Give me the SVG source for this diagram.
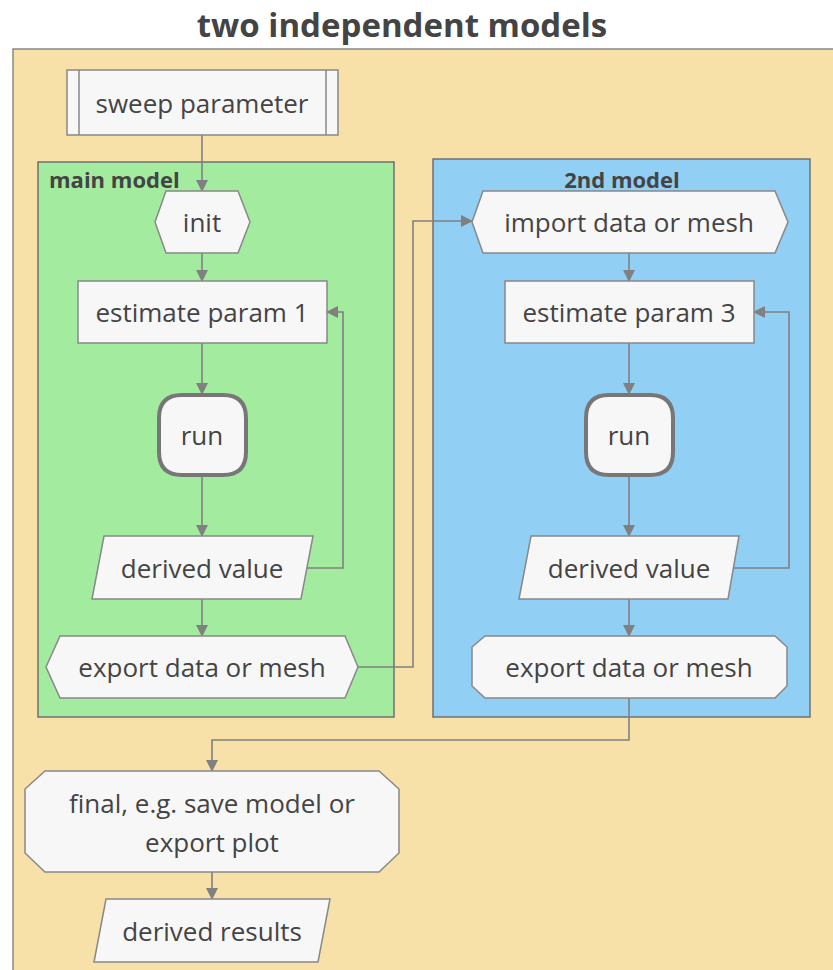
<svg xmlns="http://www.w3.org/2000/svg" width="833" height="970" viewBox="0 0 833 970">
  <style>
    .title { font-family: "Open Sans", "Noto Sans", sans-serif; font-weight: bold; font-size: 33px; fill: #444; text-anchor: middle; }
    .clabel { font-family: "Open Sans", "Noto Sans", sans-serif; font-weight: bold; font-size: 22px; fill: #444; }
    .lbl { font-family: "Open Sans", "Noto Sans", sans-serif; font-size: 26px; fill: #444; text-anchor: middle; dominant-baseline: central; }
    .node { fill: #f7f7f7; stroke: #888; stroke-width: 1.5; }
    .thick { fill: #f7f7f7; stroke: #777; stroke-width: 4; }
    .edge { fill: none; stroke: #808080; stroke-width: 1.6; }
  </style>
  <defs>
    <marker id="arrow" viewBox="0 0 12 12" refX="11" refY="6" markerWidth="12" markerHeight="12" markerUnits="userSpaceOnUse" orient="auto">
      <path d="M0,0 L12,6 L0,12 z" fill="#808080"/>
    </marker>
  </defs>

  <rect x="0" y="0" width="833" height="970" fill="#ffffff"/>
  <text class="title" x="402" y="37">two independent models</text>

  <!-- outer frame -->
  <g id="frame">
    <rect x="13" y="49" width="840" height="940" fill="#f8e0a9" stroke="#888" stroke-width="1.5"/>
  </g>

  <!-- clusters -->
  <g id="main-model">
    <rect x="38" y="162" width="356" height="555" fill="#a3ec9f" stroke="#707070" stroke-width="1.5"/>
    <text class="clabel" x="49" y="188">main model</text>
  </g>
  <g id="second-model">
    <rect x="433" y="159" width="377" height="558" fill="#92cff4" stroke="#707070" stroke-width="1.5"/>
    <text class="clabel" x="622" y="188" text-anchor="middle">2nd model</text>
  </g>

  <!-- connectors -->
  <g id="connectors">
    <path class="edge" marker-end="url(#arrow)" d="M202,135 L202,191"/>
    <path class="edge" marker-end="url(#arrow)" d="M202,253 L202,281"/>
    <path class="edge" marker-end="url(#arrow)" d="M202,343 L202,394"/>
    <path class="edge" marker-end="url(#arrow)" d="M202,476 L202,536"/>
    <path class="edge" marker-end="url(#arrow)" d="M307,568 L343,568 L343,312 L327,312"/>
    <path class="edge" marker-end="url(#arrow)" d="M202,599 L202,636"/>
    <path class="edge" marker-end="url(#arrow)" d="M358,667 L413,667 L413,221 L472,221"/>
    <path class="edge" marker-end="url(#arrow)" d="M629,253 L629,281"/>
    <path class="edge" marker-end="url(#arrow)" d="M629,343 L629,394"/>
    <path class="edge" marker-end="url(#arrow)" d="M629,476 L629,536"/>
    <path class="edge" marker-end="url(#arrow)" d="M734,568 L789,568 L789,312 L754,312"/>
    <path class="edge" marker-end="url(#arrow)" d="M629,599 L629,636"/>
    <path class="edge" marker-end="url(#arrow)" d="M629,698 L629,740 L212,740 L212,771"/>
    <path class="edge" marker-end="url(#arrow)" d="M212,872 L212,899"/>
  </g>

  <!-- nodes -->
  <g id="sweep">
    <rect class="node" x="67" y="70" width="271" height="65"/>
    <line x1="79" y1="70" x2="79" y2="135" stroke="#888" stroke-width="1.5"/>
    <line x1="326" y1="70" x2="326" y2="135" stroke="#888" stroke-width="1.5"/>
    <text class="lbl" x="202" y="103">sweep parameter</text>
  </g>
  <g id="init">
    <polygon class="node" points="155,222 166,191 238,191 250,222 238,253 166,253"/>
    <text class="lbl" x="202" y="222">init</text>
  </g>
  <g id="estimate1">
    <rect class="node" x="78" y="281" width="249" height="62"/>
    <text class="lbl" x="202" y="312">estimate param 1</text>
  </g>
  <g id="run1">
    <path class="thick" d="M182,395 L223,395 Q246,395 246,418 L246,452 Q246,475 223,475 L182,475 Q159,475 159,452 L159,418 Q159,395 182,395 Z"/>
    <text class="lbl" x="202" y="435">run</text>
  </g>
  <g id="derived1">
    <polygon class="node" points="104,536 313,536 301,599 92,599"/>
    <text class="lbl" x="202" y="568">derived value</text>
  </g>
  <g id="export1">
    <polygon class="node" points="46,667 60,636 345,636 358,667 345,698 60,698"/>
    <text class="lbl" x="202" y="667">export data or mesh</text>
  </g>
  <g id="import2">
    <polygon class="node" points="472,222 483,191 775,191 788,222 775,253 483,253"/>
    <text class="lbl" x="629" y="222">import data or mesh</text>
  </g>
  <g id="estimate3">
    <rect class="node" x="505" y="281" width="249" height="62"/>
    <text class="lbl" x="629" y="312">estimate param 3</text>
  </g>
  <g id="run2">
    <path class="thick" d="M609,395 L650,395 Q673,395 673,418 L673,452 Q673,475 650,475 L609,475 Q586,475 586,452 L586,418 Q586,395 609,395 Z"/>
    <text class="lbl" x="629" y="435">run</text>
  </g>
  <g id="derived2">
    <polygon class="node" points="531,536 739,536 728,599 519,599"/>
    <text class="lbl" x="629" y="568">derived value</text>
  </g>
  <g id="export2">
    <polygon class="node" points="485,636 775,636 787,647 787,686 775,698 485,698 472,686 472,647"/>
    <text class="lbl" x="629" y="667">export data or mesh</text>
  </g>
  <g id="final">
    <polygon class="node" points="45,771 379,771 399,789 399,853 379,872 45,872 25,853 25,789"/>
    <text class="lbl" x="212" y="803">final, e.g. save model or</text>
    <text class="lbl" x="212" y="842">export plot</text>
  </g>
  <g id="results">
    <polygon class="node" points="106,899 330,899 318,962 94,962"/>
    <text class="lbl" x="212" y="931">derived results</text>
  </g>
</svg>
